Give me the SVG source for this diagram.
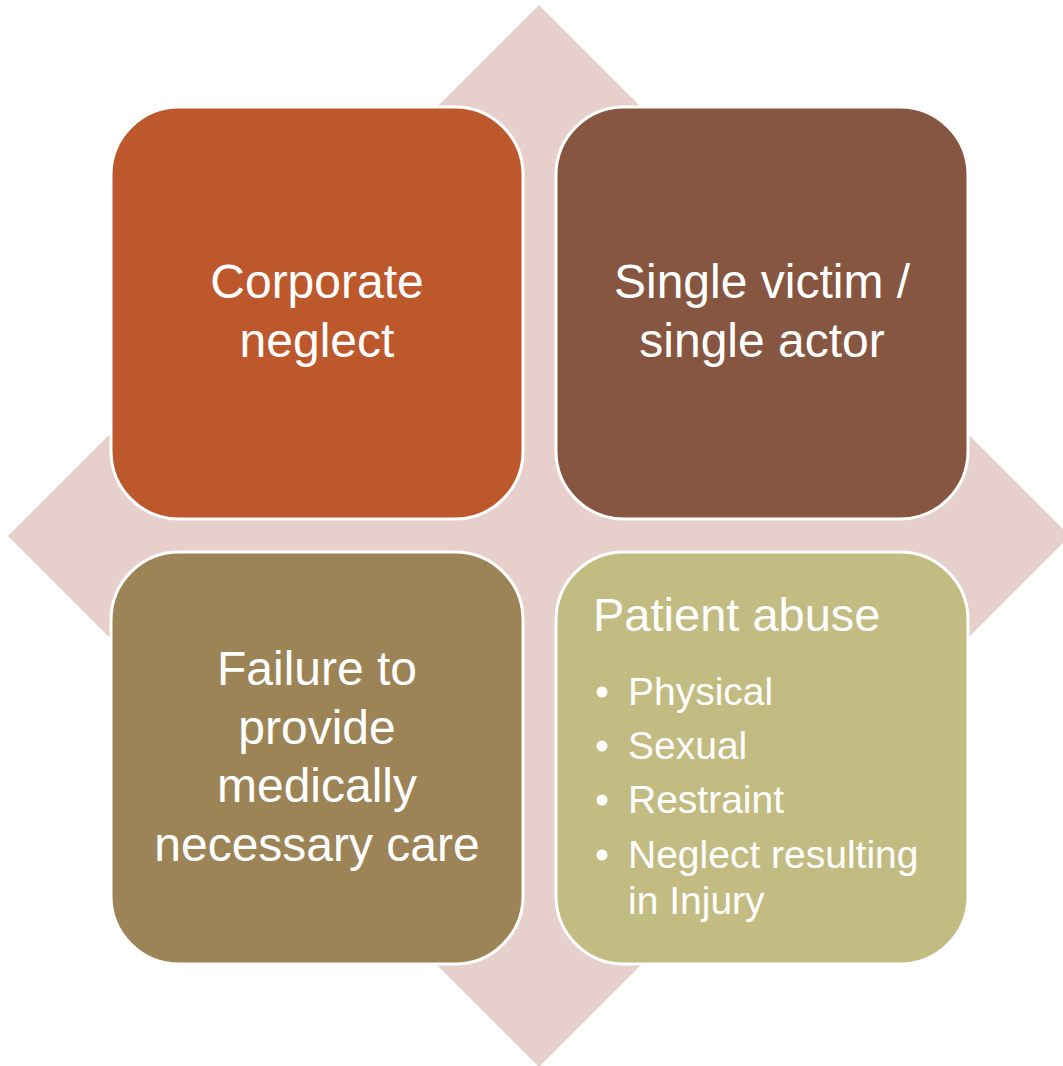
<svg xmlns="http://www.w3.org/2000/svg" width="1063" height="1066" viewBox="0 0 1063 1066">
<style>
.box{stroke:#ffffff;stroke-width:3}
.t{font-family:"Liberation Sans",Arial,sans-serif;fill:#ffffff}
.c{font-size:48px;text-anchor:middle}
.h{font-size:47px}
.b{font-size:39px}
</style>
<rect width="1063" height="1066" fill="#ffffff"/>
<polygon id="diamond" points="539,5 1070,536 539,1067 8,536" fill="#E7D0CC"/>
<g id="connectors"></g>
<g id="node-corporate">
<rect class="box" x="111" y="107" width="412" height="412" rx="68" fill="#BD582C"/>
<text class="t c" x="317" y="298">Corporate</text>
<text class="t c" x="317" y="357">neglect</text>
</g>
<g id="node-single">
<rect class="box" x="556" y="107" width="412" height="412" rx="68" fill="#875641"/>
<text class="t c" x="762" y="298">Single victim /</text>
<text class="t c" x="762" y="357">single actor</text>
</g>
<g id="node-failure">
<rect class="box" x="111" y="552" width="412" height="412" rx="68" fill="#9C8457"/>
<text class="t c" x="317" y="685">Failure to</text>
<text class="t c" x="317" y="744">provide</text>
<text class="t c" x="317" y="802">medically</text>
<text class="t c" x="317" y="861">necessary care</text>
</g>
<g id="node-abuse">
<rect class="box" x="556" y="552" width="412" height="412" rx="68" fill="#C3BC82"/>
<text class="t h" x="593" y="631">Patient abuse</text>
<g fill="#ffffff">
<circle cx="602" cy="692" r="5.5"/>
<circle cx="602" cy="746" r="5.5"/>
<circle cx="602" cy="800" r="5.5"/>
<circle cx="602" cy="855" r="5.5"/>
</g>
<text class="t b" x="628" y="705">Physical</text>
<text class="t b" x="628" y="759">Sexual</text>
<text class="t b" x="628" y="813">Restraint</text>
<text class="t b" x="628" y="868">Neglect resulting</text>
<text class="t b" x="628" y="914">in Injury</text>
</g>
</svg>
